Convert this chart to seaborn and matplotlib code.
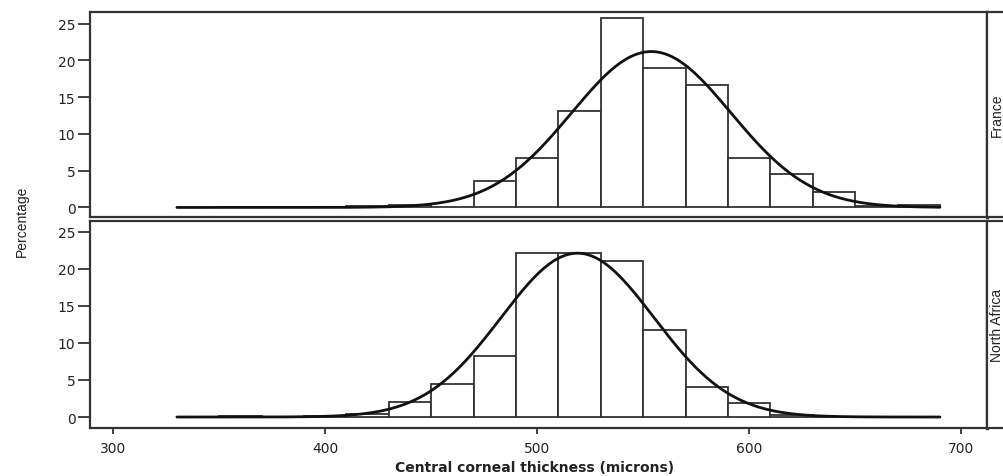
import numpy as np
import pandas as pd
import matplotlib
matplotlib.use("Agg")
import matplotlib.pyplot as plt
from matplotlib.patches import Rectangle
import seaborn as sns

# Histogram bins (microns), 20-micron width
bin_edges = [350, 370, 390, 410, 430, 450, 470, 490, 510, 530, 550, 570, 590, 610, 630, 650, 670, 690]

# Percentage of eyes per bin
france_pct = [0.0, 0.0, 0.0, 0.2, 0.4, 0.0, 3.6, 6.7, 13.1, 25.8, 19.0, 16.7, 6.7, 4.6, 2.1, 0.2, 0.4]
north_africa_pct = [0.1, 0.0, 0.2, 0.4, 2.0, 4.5, 8.2, 22.1, 22.1, 21.0, 11.7, 4.0, 1.9, 0.3, 0.0, 0.0, 0.0]

# Fitted normal parameters (mean, sd) per group
france_fit = (553.8, 37.6)
north_africa_fit = (519.0, 36.1)
curve_range = (330, 690)

groups = ["France", "North Africa"]
pcts = [france_pct, north_africa_pct]
fits = [france_fit, north_africa_fit]

x_ticks = [300, 400, 500, 600, 700]
y_ticks = [0, 5, 10, 15, 20, 25]

sns.set_theme(style="white")
plt.rcParams["font.family"] = ["DejaVu Sans"]

W, H = 1004, 477
fig = plt.figure(figsize=(W / 100, H / 100), dpi=100)

edge_col = "#333333"
txt_col = "#222222"
narrow = ["Liberation Sans Narrow", "Liberation Sans", "DejaVu Sans"]
left, right = 90 / W, 987 / W
panel_px = [(13, 218), (222, 429)]
ylims = [(-1.3, 26.6), (-1.48, 26.44)]

centers = [(a + b) / 2 for a, b in zip(bin_edges[:-1], bin_edges[1:])]
width = bin_edges[1] - bin_edges[0]

axes = []
for i, (name, pct, (mu, sd)) in enumerate(zip(groups, pcts, fits)):
    top_px, bot_px = panel_px[i]
    ax = fig.add_axes([left, 1 - bot_px / H, right - left, (bot_px - top_px) / H])
    axes.append(ax)

    df = pd.DataFrame({"thickness": centers, "pct": pct})
    sns.histplot(data=df, x="thickness", weights="pct", bins=bin_edges,
                 stat="count", fill=True, color="white", edgecolor=edge_col,
                 linewidth=1.3, alpha=1.0, ax=ax)

    xs = np.linspace(curve_range[0], curve_range[1], 400)
    dens = 100 * width * np.exp(-0.5 * ((xs - mu) / sd) ** 2) / (sd * np.sqrt(2 * np.pi))
    sns.lineplot(x=xs, y=dens, color="#111111", linewidth=2.0, ax=ax)

    ax.set_xlim(289, 712.2)
    ax.set_ylim(*ylims[i])
    ax.set_yticks(y_ticks)
    ax.set_xticks(x_ticks)
    ax.set_xlabel("")
    ax.set_ylabel("")
    for s in ax.spines.values():
        s.set_color(edge_col)
        s.set_linewidth(1.6)
    ax.spines["right"].set_linewidth(2.4)
    ax.tick_params(axis="y", direction="out", length=8.5, width=1.3, color=edge_col,
                   labelsize=10, labelcolor=txt_col, pad=2, left=True)
    if i == 0:
        ax.tick_params(axis="x", bottom=False, labelbottom=False)
    else:
        ax.tick_params(axis="x", direction="out", length=4.5, width=1.3, color=edge_col,
                       labelsize=10, labelcolor=txt_col, pad=5, bottom=True)

    # Strip label box on the right of each panel
    y0 = 1 - bot_px / H
    h = (bot_px - top_px) / H
    fig.patches.append(Rectangle((right, y0), 40 / W, h, transform=fig.transFigure,
                                 facecolor="white", edgecolor=edge_col, linewidth=1.6,
                                 clip_on=False))
    fig.text(997 / W, y0 + h / 2, name, rotation=90, ha="center", va="center",
             fontsize=10, color=txt_col, family=narrow)

fig.text(535 / W, 1 - 468 / H, "Central corneal thickness (microns)",
         ha="center", va="center", fontsize=10, fontweight="bold", color=txt_col)
fig.text(22 / W, 1 - 221 / H, "Percentage", rotation=90, ha="center", va="center",
         fontsize=10, color=txt_col, family=["Liberation Sans", "DejaVu Sans"])

fig.savefig("out.png", dpi=100)
